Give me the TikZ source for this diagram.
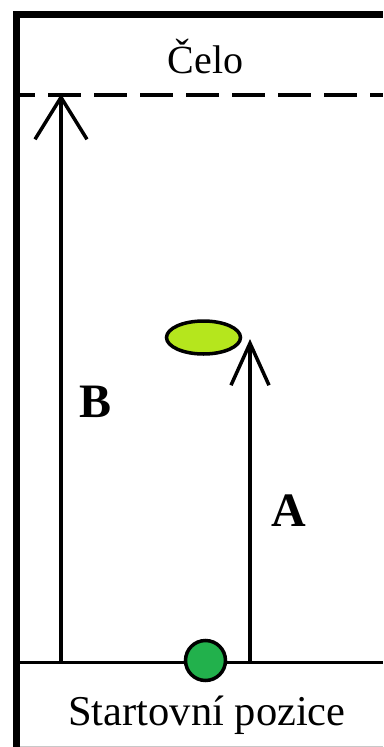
\documentclass[tikz,border=0pt]{standalone}
\usepackage{fontspec}
\setmainfont{Liberation Serif}
\usetikzlibrary{arrows.meta,shapes.geometric}
\definecolor{limeyel}{HTML}{B5E61D}
\definecolor{startgreen}{HTML}{22B14C}
\definecolor{edgegray}{HTML}{C8C8C8}
\tikzset{
  frameline/.style={line width=7pt},
  thinline/.style={line width=3.5pt},
  dashline/.style={line width=3.5pt, dash pattern=on 33pt off 13pt, dash phase=18pt},
  uparrow/.style={line width=3.5pt, -{Straight Barb[length=42pt, width=#1, line width=3.5pt]}},
  biglabel/.style={font=\fontsize{40}{44}\selectfont, anchor=base, inner sep=0pt},
  startlabel/.style={font=\fontsize{42.5}{46}\selectfont, anchor=base, inner sep=0pt},
  letterlabel/.style={font=\bfseries\fontsize{48}{52}\selectfont, anchor=base, inner sep=0pt}
}
\begin{document}
\begin{tikzpicture}[x=1pt, y=-1pt]
\useasboundingbox (0,0) rectangle (383,747);
% frame
\coordinate (tl) at (16.5,11);
\coordinate (tr) at (383,14.5);
\coordinate (bl) at (16.5,747);
\draw[frameline] (13,14.5) -- (tr);
\draw[frameline] (tl) -- (bl);
% bottom faint edge
\coordinate (ge1) at (20,746.5);
\coordinate (ge2) at (383,746.5);
\draw[edgegray, line width=1pt] (ge1) -- (ge2);
% finish (dashed) line
\coordinate (d1) at (20,95);
\coordinate (d2) at (383,95);
\draw[dashline] (d1) -- (d2);
% start line
\coordinate (s1) at (20,662.5);
\coordinate (s2) at (383,662.5);
\draw[thinline] (s1) -- (s2);
% arrows
\coordinate (Bstart) at (61,662.5);
\coordinate (Btip) at (61,94);
\coordinate (Astart) at (250,662.5);
\coordinate (Atip) at (250,339);
\draw[uparrow=52pt] (Bstart) -- (Btip);
\draw[uparrow=38pt] (Astart) -- (Atip);
% spot and start dot
\node[draw, line width=3.5pt, fill=limeyel, ellipse, minimum width=74pt, minimum height=33pt, inner sep=0pt] (spot) at (203.5,337.5) {};
\node[draw, line width=3.5pt, fill=startgreen, circle, minimum size=40pt, inner sep=0pt] (dot) at (205.5,660.5) {};
% texts
\node[biglabel] (celo) at (205.5,73) {Čelo};
\node[startlabel] (start) at (207,725) {Startovní pozice};
\node[letterlabel] (B) at (96,417) {B};
\node[letterlabel] (A) at (288.5,526) {A};
\end{tikzpicture}
\end{document}
